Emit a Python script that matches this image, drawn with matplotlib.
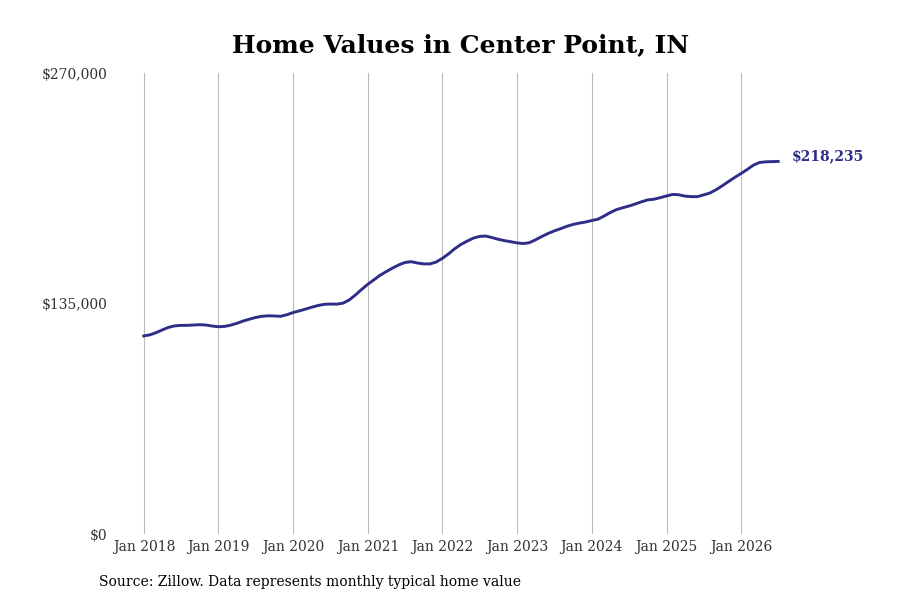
import numpy as np
import pandas as pd
import matplotlib
matplotlib.use("Agg")
import matplotlib.pyplot as plt
import matplotlib.dates as mdates
from matplotlib.ticker import FuncFormatter

plt.rcParams['font.family'] = ['DejaVu Serif']

# monthly typical home value, Jan 2018 - Jul 2026
values = [
    116000, 116700, 117900, 119500, 121000, 121900, 122200, 122200, 122400, 122600, 122400, 121800,  # 2018
    121400, 121600, 122300, 123400, 124700, 125800, 126800, 127500, 127800, 127700, 127500, 128400,  # 2019
    129700, 130700, 131700, 132800, 133800, 134500, 134700, 134600, 135200, 137000, 140000, 143200,  # 2020
    146300, 149000, 151500, 153700, 155700, 157600, 159000, 159500, 158700, 158200, 158200, 159300,  # 2021
    161500, 164200, 167000, 169600, 171500, 173300, 174300, 174500, 173600, 172600, 171800, 171200,  # 2022
    170500, 170100, 170600, 172300, 174200, 176000, 177500, 178800, 180200, 181300, 182100, 182700,  # 2023
    183600, 184400, 186200, 188300, 190000, 191100, 192100, 193300, 194600, 195700, 196100, 197000,  # 2024
    198000, 198900, 198700, 197900, 197600, 197600, 198600, 199700, 201700, 204000, 206500, 208900,  # 2025
    211200, 213600, 216000, 217600, 218000, 218100, 218235,                                          # 2026
]
dates = pd.date_range("2018-01-01", periods=len(values), freq="MS")
tick_years = list(range(2018, 2027))

line_color = "#2e2d88"

fig = plt.figure(figsize=(9, 6), dpi=100)
ax = fig.add_axes([0.122, 0.11, 0.756, 0.7683])

ax.plot(dates, values, color=line_color, linewidth=2.1)

# x range chosen so Jan 2018 and Jan 2026 land where the reference has them
x0 = mdates.date2num(pd.Timestamp("2018-01-01"))
x8 = mdates.date2num(pd.Timestamp("2026-01-01"))
per_px = (x8 - x0) / (741 - 144)
ax.set_xlim(x0 - (144 - 110) * per_px, x0 + (790 - 144) * per_px)
ax.set_ylim(0, 270000)

ax.set_xticks([pd.Timestamp(f"{y}-01-01") for y in tick_years])
ax.set_xticklabels([f"Jan {y}" for y in tick_years])
ax.set_yticks([0, 135000, 270000])
ax.yaxis.set_major_formatter(FuncFormatter(lambda v, p: f"${v:,.0f}"))

ax.grid(axis="x", color="#bbbbbb", linewidth=0.8)
ax.grid(axis="y", visible=False)
for s in ax.spines.values():
    s.set_visible(False)
ax.tick_params(axis="both", length=0, labelsize=10, labelcolor="#333333")
ax.tick_params(axis="x", pad=4)
ax.tick_params(axis="y", pad=1.5)

ax.annotate(f"${values[-1]:,.0f}", xy=(dates[-1], values[-1]), xytext=(10, 4),
            textcoords="offset points", color=line_color, fontsize=10,
            fontweight="bold", va="center", ha="left")

fig.text(0.512, 0.925, "Home Values in Center Point, IN", ha="center", va="center",
         fontsize=18, fontweight="bold")
fig.text(0.11, 0.03, "Source: Zillow. Data represents monthly typical home value",
         ha="left", va="center", fontsize=10)

fig.savefig("out.png", dpi=100)
